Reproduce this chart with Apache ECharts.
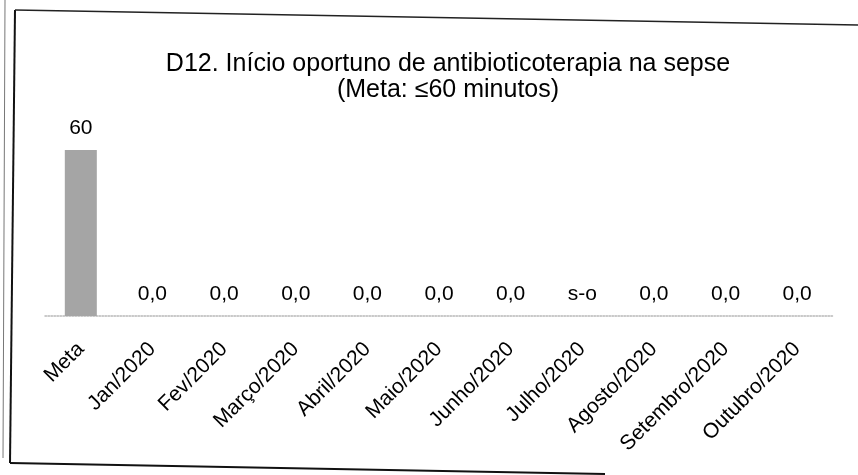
<!DOCTYPE html>
<html>
<head>
<meta charset="utf-8">
<script src="https://cdn.jsdelivr.net/npm/echarts@6/dist/echarts.min.js"></script>
<style>
  html, body { margin: 0; padding: 0; background: #fff; }
  #chart { width: 858px; height: 475px; }
</style>
</head>
<body>
<div id="chart"></div>
<script>
// categorias do eixo x
const categorias = ['Meta', 'Jan/2020', 'Fev/2020', 'Março/2020', 'Abril/2020', 'Maio/2020',
  'Junho/2020', 'Julho/2020', 'Agosto/2020', 'Setembro/2020', 'Outubro/2020']

// minutos (null = sem ocorrência, "s-o")
const valores = [60, 0, 0, 0, 0, 0, 0, null, 0, 0, 0]

const titulo = 'D12. Início oportuno de antibioticoterapia na sepse'
const subtitulo = '(Meta: ≤60 minutos)'

const fonte = '"Liberation Sans", Arial, sans-serif'

// formata o rótulo de cada barra
function rotulo (p) {
  if (p.dataIndex === 0) return String(p.value)
  return p.value.toFixed(1).replace('.', ',')
}

let dados = valores.map(function (v) {
  if (v === null) {
    return { value: 0, label: { formatter: 's-o' } }
  }
  return v
})

let chart = echarts.init(document.getElementById('chart'))

chart.setOption({
  animation: false,
  backgroundColor: '#fff',
  title: {
    text: titulo + '\n' + subtitulo,
    left: 448,
    textAlign: 'center',
    top: 51,
    padding: 0,
    textStyle: {
      fontFamily: fonte,
      fontSize: 25,
      fontWeight: 'normal',
      color: '#000',
      lineHeight: 26
    }
  },
  grid: {
    left: 45,
    right: 25,
    top: 150,
    bottom: 159
  },
  xAxis: {
    type: 'category',
    data: categorias,
    axisTick: { show: false },
    axisLine: {
      lineStyle: { color: '#b8b8b8', width: 1.5, type: 'dotted' }
    },
    axisLabel: {
      interval: 0,
      rotate: 45,
      margin: 30,
      fontFamily: fonte,
      fontSize: 21,
      color: '#000'
    }
  },
  yAxis: {
    type: 'value',
    min: 0,
    max: 60,
    show: false
  },
  series: [{
    type: 'bar',
    data: dados,
    barWidth: 32,
    itemStyle: {
      color: '#a5a5a5'
    },
    label: {
      show: true,
      position: 'top',
      distance: 11,
      formatter: rotulo,
      fontFamily: fonte,
      fontSize: 21,
      color: '#000'
    }
  }],
  graphic: [
    // moldura da página digitalizada
    { type: 'line', shape: { x1: 5, y1: 0, x2: 3, y2: 458 }, style: { stroke: '#777', lineWidth: 1 } },
    { type: 'line', shape: { x1: 15, y1: 10, x2: 10, y2: 463 }, style: { stroke: '#111', lineWidth: 2 } },
    { type: 'line', shape: { x1: 15, y1: 10, x2: 858, y2: 25 }, style: { stroke: '#222', lineWidth: 1.5 } },
    { type: 'line', shape: { x1: 10, y1: 463, x2: 605, y2: 474 }, style: { stroke: '#111', lineWidth: 2 } }
  ]
})
</script>
</body>
</html>
